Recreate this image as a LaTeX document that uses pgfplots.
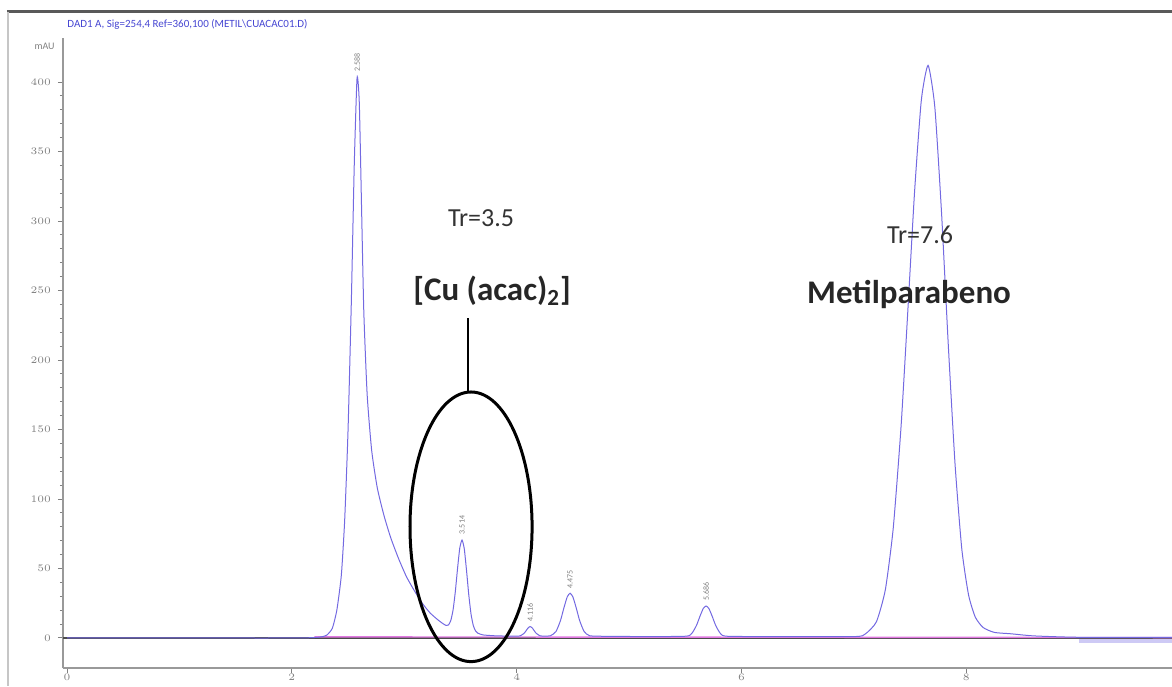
\documentclass[border=0pt]{standalone}
\usepackage{pgfplots}
\usepackage{pgfplotstable}
\pgfplotsset{compat=1.18}
\usepackage{fontspec}
\setmainfont{Carlito}
\definecolor{sig}{RGB}{115,105,225}
\definecolor{basepink}{RGB}{225,120,225}
\definecolor{hdr}{RGB}{70,70,210}

\pgfplotstableread{
t v
0 0
1.0 0
2.0 0
2.20 0.3
2.26 0.8
2.31 2
2.36 7
2.40 20
2.44 45
2.47 85
2.50 150
2.53 245
2.555 340
2.58 403
2.60 385
2.62 310
2.64 235
2.67 175
2.71 135
2.76 108
2.82 88
2.88 72
2.95 57
3.02 44
3.09 34
3.16 25
3.23 18
3.30 13
3.35 10
3.374 9.0
3.394 9.4
3.414 12.6
3.434 20.1
3.454 33.2
3.474 50.0
3.494 64.8
3.514 70.5
3.534 64.1
3.554 48.5
3.574 31.0
3.594 17.2
3.614 9.0
3.634 5.1
3.654 3.5
3.70 2.2
3.80 1.6
3.95 1.3
4.03 1.5
4.07 3.7
4.10 7.1
4.12 8.2
4.14 7.1
4.17 3.7
4.21 1.5
4.30 1.6
4.35 4.7
4.39 12.6
4.42 21.6
4.45 29.6
4.475 32.2
4.50 29.6
4.53 21.6
4.56 12.6
4.60 4.7
4.65 1.6
4.80 1.2
5.20 1.0
5.51 1.3
5.56 3.5
5.60 9.1
5.63 15.5
5.66 21.2
5.685 23
5.71 21.2
5.74 15.5
5.77 9.1
5.81 3.5
5.86 1.3
6.20 1.0
7.00 1.0
7.10 2.8
7.20 11.6
7.28 34.8
7.35 79
7.42 152.6
7.48 235.6
7.54 321.3
7.60 387
7.66 412
7.72 382
7.78 305.6
7.84 210.5
7.90 125
7.96 64
8.02 31
8.08 15
8.15 7.5
8.25 4
8.40 3
8.60 1.5
9.00 0.5
9.83 0.5
}\signal

\begin{document}
\begin{tikzpicture}
\begin{axis}[
  scale only axis, width=554.5pt, height=315pt,
  xmin=-0.036, xmax=9.83, ymin=-21.6, ymax=431.7,
  axis x line*=bottom, axis y line*=left,
  xtick={0,2,4,6,8}, ytick={0,50,...,400}, minor y tick num=4,
  tick align=outside, major tick length=2.5pt, minor tick length=1.5pt,
  tick style={gray, line width=0.5pt},
  axis line style={gray!80, line width=0.8pt},
  ticklabel style={font=\fontsize{5}{6}\selectfont, text=gray},
  xticklabel style={inner sep=0.5pt, font=\fontsize{4.5}{5}\selectfont},
  clip=false,
]
\addplot[gray!60!black, line width=0.8pt, forget plot] coordinates {(-0.036,0) (9.83,0)};
\addplot[basepink, line width=0.7pt, forget plot] coordinates {(2.2,0.8) (9.83,0.3)};
\addplot[sig!35, line width=2.2pt, forget plot] coordinates {(9.0,-2) (9.83,-2)};
\addplot[sig, line width=0.5pt, smooth, tension=0.35] table[x=t, y=v] {\signal};

% retention-time labels above peaks
\begin{scope}[every node/.style={font=\fontsize{4}{4}\selectfont, text=gray, rotate=90, anchor=west, inner sep=1pt}]
\node at (axis cs:2.58,406) {2.588};
\node at (axis cs:3.514,73) {3.514};
\node at (axis cs:4.12,10) {4.116};
\node at (axis cs:4.475,34) {4.475};
\node at (axis cs:5.685,25) {5.686};
\end{scope}

% annotations
\node[font=\fontsize{13}{14}\selectfont, text=black!80] at (axis cs:3.683,302) {Tr=3.5};
\node[font=\fontsize{16.5}{18}\selectfont\bfseries, text=black!85] at (axis cs:3.781,250) {[Cu (acac)\textsubscript{2}]};
\node[font=\fontsize{13}{14}\selectfont, text=black!80] at (axis cs:7.589,290) {Tr=7.6};
\node[font=\fontsize{16.5}{18}\selectfont\bfseries, text=black!85] at (axis cs:7.491,247) {Metilparabeno};
\draw[black, line width=1.5pt] (axis cs:3.594,80) ellipse [x radius=0.543, y radius=97];
\draw[black, line width=1pt] (axis cs:3.568,230) -- (axis cs:3.568,177);

\node[anchor=east, font=\fontsize{5}{6}\selectfont, text=gray, inner sep=0pt] at ([xshift=-4pt]axis cs:-0.036,426) {mAU};
\node[anchor=west, font=\fontsize{5.5}{6}\selectfont, text=hdr, inner sep=0pt] at ([xshift=2pt,yshift=7pt]rel axis cs:0,1) {DAD1 A, Sig=254,4 Ref=360,100 (METIL\textbackslash CUACAC01.D)};
\end{axis}
\draw[gray!70!black, line width=1.5pt] ([xshift=-28pt, yshift=13pt]current axis.north west) -- ([yshift=13pt]current axis.north east);
\draw[gray!45, line width=1pt] ([xshift=-27.5pt, yshift=13pt]current axis.north west) -- ([xshift=-27.5pt,yshift=-9pt]current axis.south west);
\pgfresetboundingbox
\path ([xshift=-31.5pt,yshift=-9pt]current axis.south west) rectangle ([yshift=19pt]current axis.north east);
\end{tikzpicture}
\end{document}
